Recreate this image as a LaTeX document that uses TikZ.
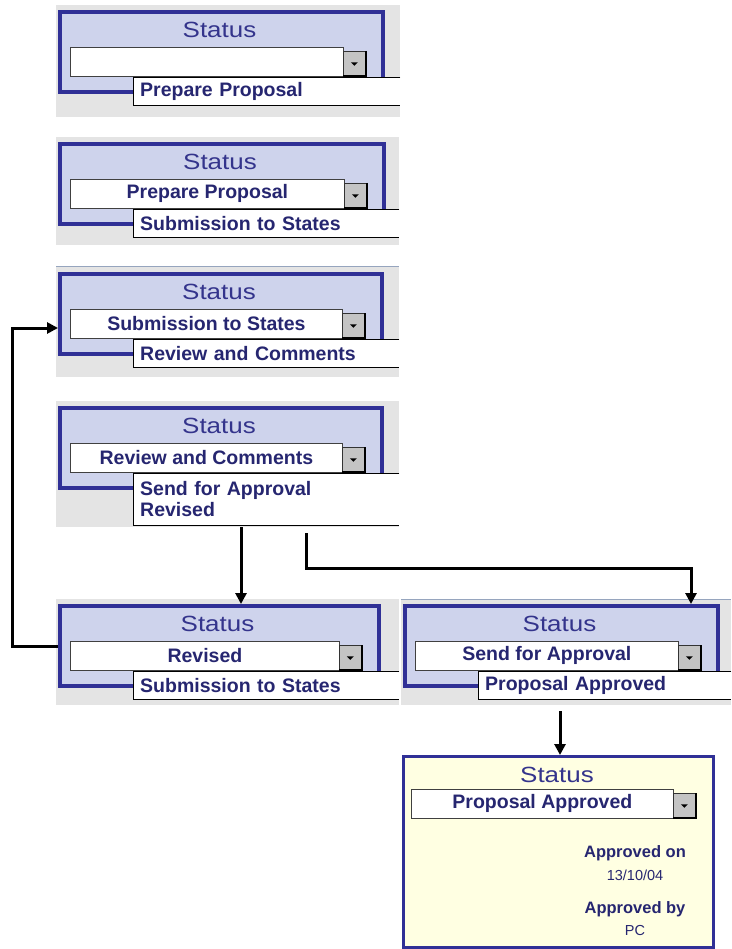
\documentclass[tikz,border=0pt]{standalone}
\usepackage{fontspec}
\setmainfont{Liberation Sans}
\newfontfamily\statusfont{Liberation Sans}[FakeStretch=1.18]
\usepackage{tikz}
\usetikzlibrary{arrows.meta, positioning, calc}
\definecolor{panelgray}{RGB}{228,228,228}
\definecolor{boxfill}{RGB}{206,211,236}
\definecolor{boxline}{RGB}{48,48,150}
\definecolor{statusblue}{RGB}{52,52,140}
\definecolor{itemblue}{RGB}{38,38,112}
\definecolor{btngray}{RGB}{196,196,196}
\definecolor{noteyellow}{RGB}{255,255,226}
\definecolor{edgeblue}{RGB}{150,165,190}
\newcommand{\itemfont}{\fontsize{19.5}{21}\selectfont\bfseries}

\tikzset{
  panelbg/.style={fill=panelgray, inner sep=0pt, anchor=north west},
  panelbox/.style={draw=boxline, line width=4pt, fill=boxfill, minimum height=80pt, inner sep=0pt, anchor=north west},
  notebox/.style={draw=boxline, line width=3pt, fill=noteyellow, inner sep=0pt, anchor=north west},
  fieldbox/.style={draw=black!75, line width=0.8pt, fill=white, minimum height=29pt, inner sep=0pt, anchor=north west, font=\itemfont, text=itemblue},
  dropbtn/.style={draw=black!80, line width=0.6pt, fill=btngray, minimum width=22pt, minimum height=24pt, inner sep=0pt, anchor=north west},
  listbox/.style={fill=white, inner xsep=7pt, inner ysep=0pt, anchor=north west, align=left, font=\itemfont, text=itemblue},
  statuslabel/.style={font=\statusfont\fontsize{22}{24}\selectfont, text=statusblue},
  notelabel/.style={font=\fontsize{16.5}{18}\selectfont\bfseries, text=itemblue},
  notevalue/.style={font=\fontsize{14.5}{16}\selectfont, text=itemblue},
  flow/.style={line width=3pt, -{Triangle[length=11pt,width=11pt]}},
}

% name, x, y, box width, grey right, grey bottom, field text, list text, list height
\newcommand{\statuspanel}[9]{%
  \pgfmathsetmacro\bgW{#5-#2+2}
  \pgfmathsetmacro\bgH{#6-#3+5}
  \pgfmathsetmacro\fdW{#4-50}
  \pgfmathsetmacro\lsW{#5-#2-89}
  \node (#1g) at (#2-2,#3-5) [panelbg, minimum width=\bgW pt, minimum height=\bgH pt] {};
  \node (#1) at (#2,#3) [panelbox, minimum width=#4pt] {};
  \node (#1s) at (#2+#4/2,#3+20) [statuslabel] {Status};
  \node (#1f) at (#2+12,#3+37) [fieldbox, minimum width=\fdW pt] {#7};
  \node (#1b) at (#2+#4-38,#3+41) [dropbtn] {};
  \draw[line width=2pt] (#1b.north east) -- (#1b.south east) -- (#1b.south west);
  \fill (#1b.center) ++(-3.5,-1) -- ++(7,0) -- ++(-3.5,3.5) -- cycle;
  \node (#1l) at (#2+75,#3+67) [listbox, text width=\lsW pt, minimum height=#9pt] {#8};
  \draw[line width=0.8pt] (#1l.north east) -- (#1l.north west) -- (#1l.south west) -- (#1l.south east);
}

\begin{document}
\begin{tikzpicture}[x=1pt, y=-1pt]
    \useasboundingbox (0,0) rectangle (731,949);

    \statuspanel{a}{58}{10}{323}{400}{117}{}{Prepare Proposal}{28}
    \statuspanel{b}{58}{142}{324}{399}{245}{Prepare Proposal}{Submission to States}{28}
    \statuspanel{c}{58}{272}{322}{399}{377}{Submission to States}{Review and Comments}{28}
    \statuspanel{d}{58}{406}{322}{399}{527}{Review and Comments}{Send for Approval\\Revised}{52}
    \statuspanel{e}{58}{604}{319}{399}{705}{Revised}{Submission to States}{28}
    \statuspanel{f}{403}{604}{313}{731}{705}{Send for Approval}{Proposal Approved}{28}
    \draw[edgeblue, line width=1pt] (cg.north west) -- (cg.north east);
    \draw[edgeblue, line width=1pt] (fg.north west) -- (fg.north east);

    % approved record
    \node (g) at (402,755) [notebox, minimum width=310pt, minimum height=191pt] {};
    \node (gs) at (557,775) [statuslabel] {Status};
    \node (gf) at (411,789) [fieldbox, minimum width=262pt] {Proposal Approved};
    \node (gb) at (673,793) [dropbtn] {};
    \draw[line width=2pt] (gb.north east) -- (gb.south east) -- (gb.south west);
    \fill (gb.center) ++(-3.5,-1) -- ++(7,0) -- ++(-3.5,3.5) -- cycle;
    \node (gon) at (635,853) [notelabel] {Approved on};
    \node (gdate) at (635,875) [notevalue] {13/10/04};
    \node (gby) at (635,909) [notelabel] {Approved by};
    \node (gpc) at (635,930) [notevalue] {PC};

    % flow between states
    \coordinate (r1) at (241,0);
    \coordinate (r2) at (306,533);
    \coordinate (r3) at (691,568);
    \coordinate (r4) at (560,711);
    \coordinate (r5) at (12,328);
    \draw[flow] (r1 |- dg.south) -- (r1 |- e.north);
    \draw[flow] (r2) |- (r3) -- (r3 |- f.north);
    \draw[flow] (r4) -- (r4 |- g.north);
    \draw[flow] (e.west) -| (r5) -- (r5 -| c.west);
\end{tikzpicture}
\end{document}
